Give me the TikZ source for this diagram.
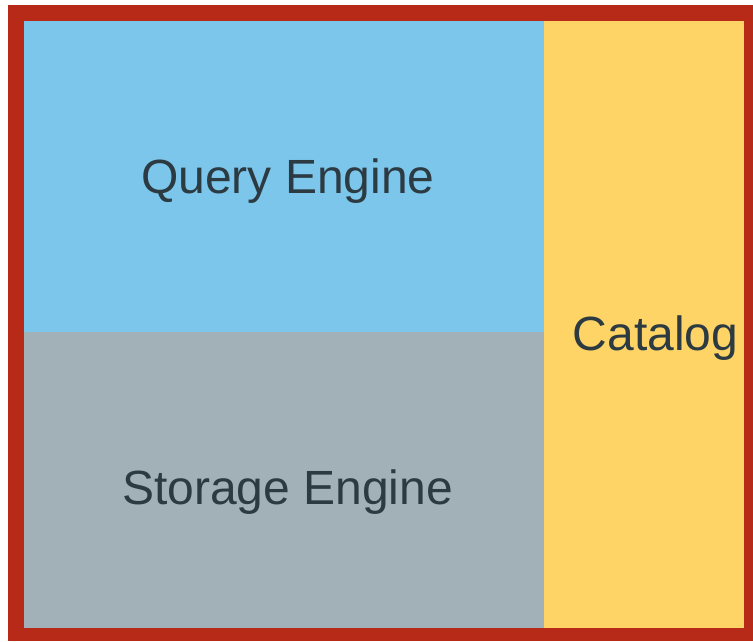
\documentclass[tikz,border=0pt]{standalone}
\usepackage{fontspec}
\setmainfont{Liberation Sans}
\definecolor{dbRed}{HTML}{B82A18}
\definecolor{dbBlue}{HTML}{7BC6EA}
\definecolor{dbGray}{HTML}{A2B0B8}
\definecolor{dbGold}{HTML}{FFD466}
\definecolor{dbInk}{HTML}{2C3A42}
\tikzset{
  db frame/.style={fill=dbRed, draw=none},
  db block/.style={draw=none},
  db label/.style={font=\fontsize{48}{57}\selectfont, text=dbInk, anchor=base, inner sep=0pt},
}

\begin{document}
\begin{tikzpicture}[x=1pt,y=1pt]
  \useasboundingbox (0,0) rectangle (753,641);
  \fill[db frame] (8,0) rectangle (753,636);
  \fill[db block,fill=dbBlue] (24,309) rectangle (544,620);
  \fill[db block,fill=dbGray] (24,13) rectangle (544,309);
  \fill[db block,fill=dbGold] (544,13) rectangle (744,620);
  \node[db label] (query) at (288,447) {Query Engine};
  \node[db label] (storage) at (287.5,137) {Storage Engine};
  \node[db label] (catalog) at (655.5,290) {Catalog};
\end{tikzpicture}
\end{document}
